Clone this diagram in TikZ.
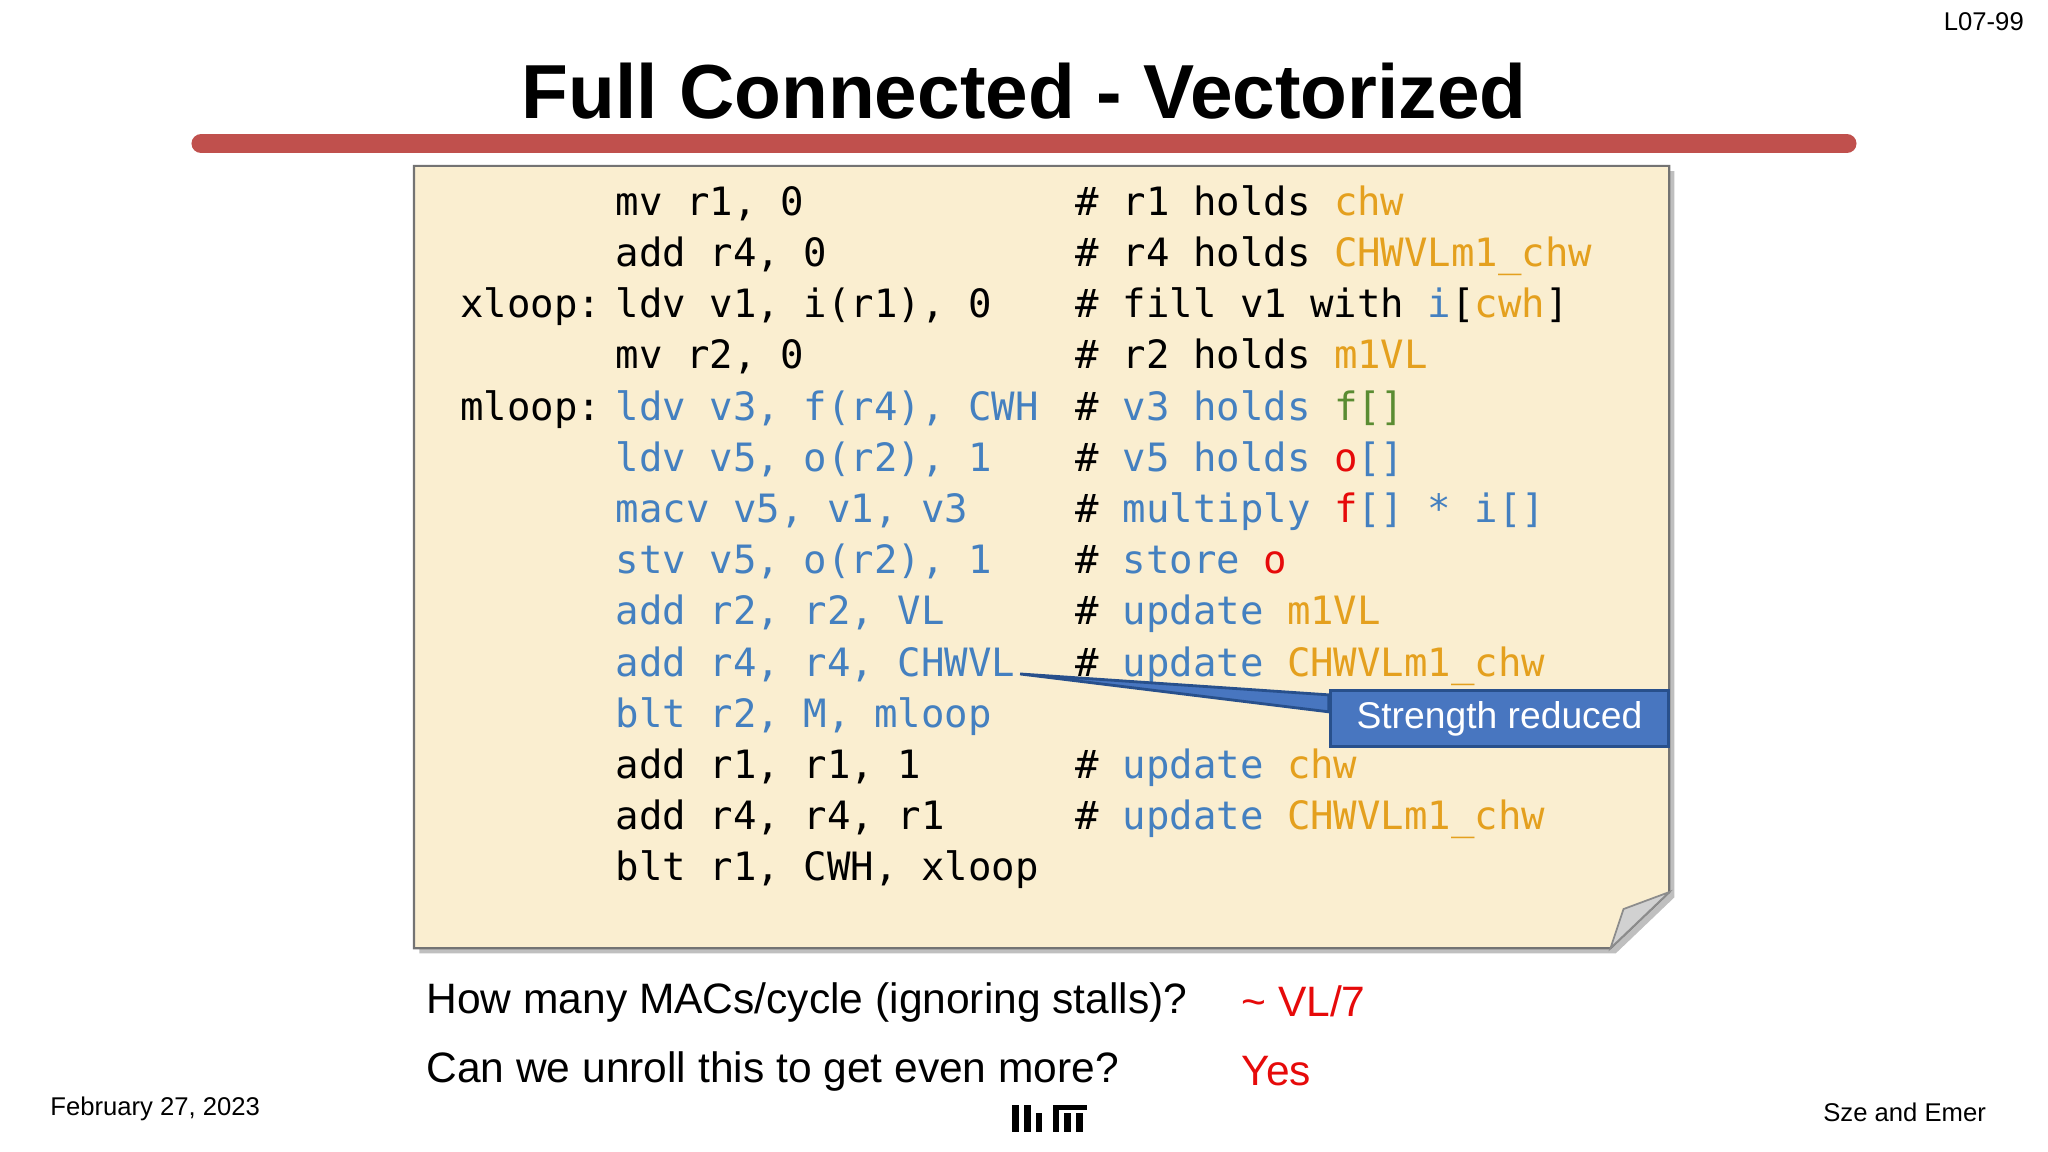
\documentclass[tikz,border=0pt]{standalone}
\usepackage{fontspec}
\setmainfont{Liberation Sans}
\newfontfamily\codefont{DejaVu Sans Mono}
\definecolor{cblue}{RGB}{68,128,192}
\definecolor{corange}{RGB}{228,160,30}
\definecolor{cgreen}{RGB}{90,140,50}
\definecolor{cred}{RGB}{230,10,10}
\definecolor{paper}{RGB}{250,238,208}
\definecolor{barred}{RGB}{192,80,77}
\definecolor{callblue}{RGB}{72,118,192}
\definecolor{calldark}{RGB}{40,80,140}
\tikzset{code/.style={anchor=base west,inner sep=0pt,font=\codefont\fontsize{11.1pt}{13pt}\selectfont},
  qtext/.style={anchor=base west,inner sep=0pt,font=\fontsize{12.1pt}{14pt}\selectfont},
  small/.style={inner sep=0pt,font=\fontsize{7.3pt}{9pt}\selectfont}}
\newcommand{\cb}[1]{\textcolor{cblue}{#1}}
\newcommand{\co}[1]{\textcolor{corange}{#1}}
\newcommand{\cg}[1]{\textcolor{cgreen}{#1}}
\newcommand{\crd}[1]{\textcolor{cred}{#1}}
\begin{document}
\begin{tikzpicture}[x=0.013061cm,y=-0.013061cm]
\useasboundingbox (0,0) rectangle (1568,882);
\node[small,anchor=north east] (pg) at (1550,9) {L07-99};
\node[inner sep=0pt,font=\bfseries\fontsize{21.8pt}{26pt}\selectfont] (title) at (784,70) {Full Connected - Vectorized};
\draw[barred,line width=5.5pt,line cap=round] (154,110) -- (1414,110);
% paper
\fill[black!25] (321,131) -- (1282,131) -- (1282,687) -- (1237,730) -- (321,730) -- cycle;
\draw[fill=paper,draw=black!55,line width=0.6pt] (317,127) -- (1278,127) -- (1278,683) -- (1233,726) -- (317,726) -- cycle;
\draw[fill=black!18,draw=black!45,line width=0.5pt] (1233,726) -- (1243,696) -- (1278,683) -- cycle;
% code
\foreach \y/\l/\c/\m [count=\i] in {
 154//{mv r1, 0}/{\# r1 holds \co{chw}},
 193//{add r4, 0}/{\# r4 holds \co{CHWVLm1\_chw}},
 232/xloop:/{ldv v1, i(r1), 0}/{\# fill v1 with \cb{i}[\co{cwh}]},
 271//{mv r2, 0}/{\# r2 holds \co{m1VL}},
 311/mloop:/{\cb{ldv v3, f(r4), CWH}}/{\# \cb{v3 holds} \cg{f[]}},
 350//{\cb{ldv v5, o(r2), 1}}/{\# \cb{v5 holds} \crd{o}\cb{[]}},
 389//{\cb{macv v5, v1, v3}}/{\# \cb{multiply} \crd{f}\cb{[] * i[]}},
 428//{\cb{stv v5, o(r2), 1}}/{\# \cb{store} \crd{o}},
 467//{\cb{add r2, r2, VL}}/{\# \cb{update} \co{m1VL}},
 507//{\cb{add r4, r4, CHWVL}}/{\# \cb{update} \co{CHWVLm1\_chw}},
 546//{\cb{blt r2, M, mloop}}/{},
 585//{add r1, r1, 1}/{\# \cb{update} \co{chw}},
 624//{add r4, r4, r1}/{\# \cb{update} \co{CHWVLm1\_chw}},
 663//{blt r1, CWH, xloop}/{}}{
 \node[code] (lab\i) at (352,\y+11) {\l};
 \node[code] (ins\i) at (471,\y+11) {\c};
 \node[code] (com\i) at (823,\y+11) {\m};
}
% callout
\coordinate (tip) at (781,516);
\node[fill=callblue,draw=calldark,line width=1pt,text=white,
  font=\fontsize{10.6pt}{12pt}\selectfont,inner sep=0pt,minimum height=0.56cm,minimum width=3.38cm] (call) at (1148,550) {Strength reduced};
\fill[callblue,draw=calldark,line width=0.8pt] (tip) -- (call.west |- 0,532) -- (call.west |- 0,545) -- cycle;
% questions
\node[qtext] (q1) at (326,776) {How many MACs/cycle (ignoring stalls)?};
\node[qtext,text=cred] (a1) at (950,778) {\textasciitilde{} VL/7};
\node[qtext] (q2) at (326,829) {Can we unroll this to get even more?};
\node[qtext,text=cred] (a2) at (950,831) {Yes};
\node[small,anchor=base west] (date) at (38,854) {February 27, 2023};
\node[small,anchor=base east] (auth) at (1521,859) {Sze and Emer};
% MIT logo
\foreach \x/\t in {775/846,784/846,793/852,806/846,815/852,824/852}{\fill (\x,\t) rectangle (\x+5,867);}
\fill (806,846) rectangle (832,850);
\end{tikzpicture}
\end{document}
